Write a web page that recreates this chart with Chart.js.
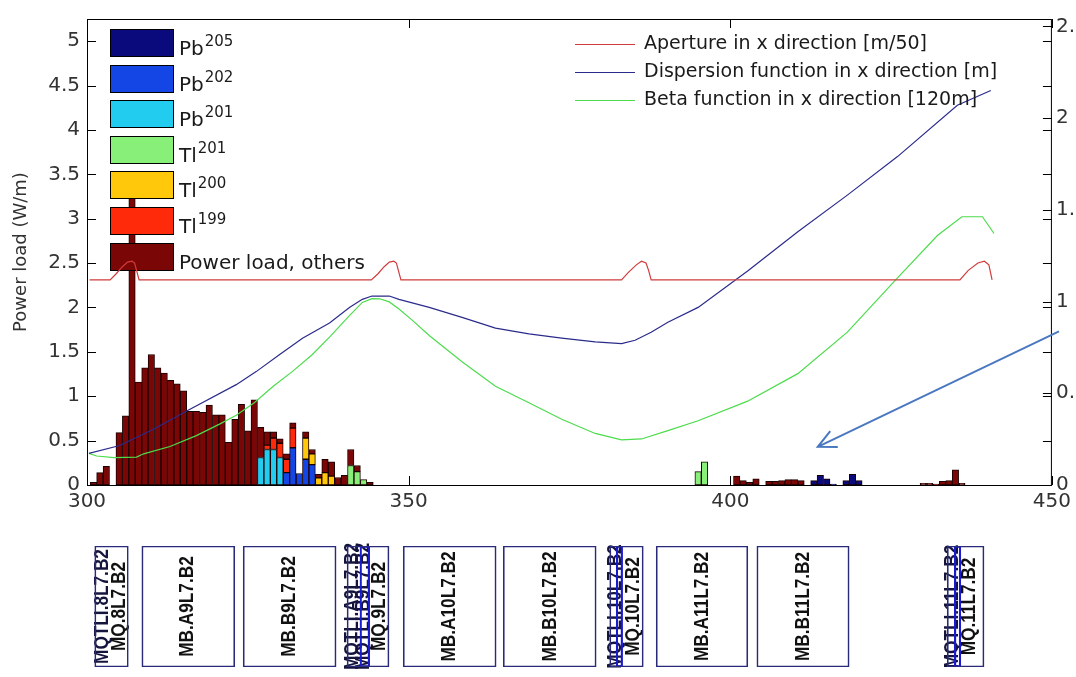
<!DOCTYPE html>
<html>
<head>
<meta charset="utf-8">
<script src="https://cdn.jsdelivr.net/npm/chart.js@4.4.1/dist/chart.umd.min.js"></script>
<style>
  html, body { margin: 0; padding: 0; background: #fff; }
  #main { position: absolute; left: 0; top: 0; }
  #magnets { position: absolute; left: 0; top: 520px; }
</style>
</head>
<body>
<canvas id="main" width="1076" height="520"></canvas>
<canvas id="magnets" width="1076" height="157"></canvas>
<script>
// Power load per 1 m bin (W/m), one pair of arrays per isotope
const othersBins = [301, 302, 303, 305, 306, 307, 308, 309, 310, 311,
  312, 313, 314, 315, 316, 317, 318, 319, 320, 321, 322, 323, 324, 325, 326, 327, 328, 329, 330,
  331, 332, 334, 335, 336, 337, 338, 339, 340, 341, 342, 344,
  401, 402, 403, 404, 406, 407, 408, 409, 410, 411,
  430, 431, 432, 433, 434, 435, 436];
const othersLoad = [0.03, 0.14, 0.21, 0.59, 0.78, 3.5, 1.16, 1.32, 1.47, 1.32,
  1.26, 1.18, 1.14, 1.06, 0.83, 0.83, 0.82, 0.9, 0.79, 0.79, 0.48, 0.74, 0.91, 0.61, 0.96, 0.34, 0.15, 0.07, 0.05,
  0.06, 0.06, 0.07, 0.05, 0.04, 0.15, 0.16, 0.085, 0.11, 0.18, 0.07, 0.03,
  0.1, 0.05, 0.03, 0.07, 0.04, 0.04, 0.05, 0.06, 0.06, 0.05,
  0.02, 0.02, 0.01, 0.04, 0.05, 0.17, 0.02];
const tl199Bins = [328, 329, 330, 331, 332];
const tl199Load = [0.05, 0.13, 0.16, 0.15, 0.22];
const tl200Bins = [334, 335, 336, 337, 338];
const tl200Load = [0.24, 0.12, 0.08, 0.14, 0.1];
const tl201Bins = [341, 342, 343, 395, 396];
const tl201Load = [0.22, 0.15, 0.06, 0.15, 0.26];
const pb201Bins = [327, 328, 329, 330];
const pb201Load = [0.31, 0.4, 0.4, 0.31];
const pb202Bins = [331, 332, 333, 334, 335];
const pb202Load = [0.14, 0.42, 0.13, 0.29, 0.23];
const pb205Bins = [413, 414, 415, 416, 418, 419, 420];
const pb205Load = [0.05, 0.11, 0.07, 0.01, 0.05, 0.12, 0.05];

// Optics, right axis
const apertureS = [300.4, 303.6, 304.5, 305.5, 306.3, 307.0, 307.4, 307.7, 308.1,
  344.2, 345.2, 346.2, 347.0, 347.7, 348.1, 348.4, 348.8,
  383.1, 384.2, 385.4, 386.2, 386.9, 387.3, 387.7,
  435.7, 437.0, 438.5, 439.5, 440.2, 440.7];
const apertureVal = [1.118, 1.118, 1.15, 1.19, 1.215, 1.22, 1.21, 1.17, 1.118,
  1.118, 1.15, 1.19, 1.215, 1.22, 1.21, 1.17, 1.118,
  1.118, 1.16, 1.2, 1.22, 1.21, 1.17, 1.118,
  1.118, 1.17, 1.21, 1.22, 1.2, 1.118];
const dispersionS = [300.3, 305.1, 310.4, 315.5, 323.2, 326.3, 329.9, 333.5, 337.7, 340.8, 342.8, 344.3,
  347.0, 348.5, 353.2, 358.3, 363.5, 368.7, 373.8, 379.0, 383.1, 385.2, 387.7, 390.3, 395.0,
  402.7, 410.5, 418.2, 426.0, 435.3, 440.5];
const dispersionVal = [0.172, 0.215, 0.305, 0.403, 0.547, 0.618, 0.71, 0.8, 0.883, 0.968, 1.012, 1.03,
  1.03, 1.012, 0.968, 0.914, 0.855, 0.824, 0.801, 0.78, 0.771, 0.789, 0.833, 0.887, 0.968,
  1.167, 1.38, 1.58, 1.79, 2.07, 2.15];
const betaS = [300.3, 301.5, 304.2, 307.7, 308.8, 312.9, 317.0, 320.6, 323.2, 326.0, 329.0, 331.9, 335.0,
  337.7, 340.8, 342.8, 344.3, 345.5, 347.0, 348.5, 350.5, 353.2, 358.3, 363.5, 368.7, 373.8, 379.0,
  383.1, 386.2, 390.3, 395.0, 402.7, 410.5, 418.2, 426.0, 432.2, 436.0, 439.2, 441.0];
const betaVal = [0.172, 0.158, 0.149, 0.152, 0.17, 0.21, 0.269, 0.332, 0.38, 0.448, 0.54, 0.618, 0.71,
  0.806, 0.923, 0.995, 1.016, 1.015, 0.998, 0.959, 0.9, 0.815, 0.672, 0.538, 0.448, 0.358, 0.281,
  0.246, 0.251, 0.296, 0.35, 0.457, 0.607, 0.833, 1.129, 1.36, 1.462, 1.462, 1.371];

// Tick values
const xTicks = [300, 350, 400, 450];
const leftTicks = [0, 0.5, 1, 1.5, 2, 2.5, 3, 3.5, 4, 4.5, 5];
const rightTicks = [0, 0.5, 1, 1.5, 2, 2.5];

// Magnet layout (s in m)
const magnetNames = ["MQ.8L7.B2", "MB.A9L7.B2", "MB.B9L7.B2", "MQ.9L7.B2", "MB.A10L7.B2",
  "MB.B10L7.B2", "MQ.10L7.B2", "MB.A11L7.B2", "MB.B11L7.B2", "MQ.11L7.B2"];
const magnetStart = [301.2, 308.5, 324.2, 340.3, 349.0, 364.5, 381.0, 388.2, 403.8, 433.3];
const magnetEnd = [306.4, 322.9, 338.6, 346.8, 363.4, 378.9, 386.2, 402.4, 418.1, 439.0];
const magnetLabelAt = [305.0, 315.6, 331.4, 345.3, 356.2, 371.7, 384.6, 395.3, 411.0, 436.7];
const correctorNames = ["MQTLI.8L7.B2", "MQTLI.A9L7.B2", "MQTLI.B9L7.B2", "MQTLI.10L7.B2", "MQTLI.11L7.B2"];
const correctorAt = [302.3, 341.1, 342.8, 381.8, 434.0];
const correctorStart = [342.3, 382.0, 434.4];
const correctorEnd = [343.8, 383.0, 435.4];

const seriesBase = ["Pb", "Pb", "Pb", "Tl", "Tl", "Tl", "Power load, others"];
const seriesMass = ["205", "202", "201", "201", "200", "199", ""];
const seriesColors = ["#0a0a7c", "#1446e6", "#22ccee", "#88f078", "#ffc80a", "#ff2a0a", "#7a0606"];
const seriesBins = [pb205Bins, pb202Bins, pb201Bins, tl201Bins, tl200Bins, tl199Bins, othersBins];
const seriesLoad = [pb205Load, pb202Load, pb201Load, tl201Load, tl200Load, tl199Load, othersLoad];

const opticsLabels = ["Aperture in x direction [m/50]", "Dispersion function in x direction [m]", "Beta function in x direction [120m]"];
const opticsColors = ["#d03c3c", "#2b2b8c", "#4cdc4c"];
const opticsS = [apertureS, dispersionS, betaS];
const opticsVal = [apertureVal, dispersionVal, betaVal];

const arrowFrom = [451.1, 1.73];
const arrowTo = [413.6, 0.43];

Chart.defaults.font.family = '"DejaVu Sans", sans-serif';
Chart.defaults.color = "#2a2a2a";

const FONT = '"DejaVu Sans", sans-serif';

const useTicks = values => scale => { scale.ticks = values.map(v => ({ value: v })); };
const plainNumber = v => String(+Number(v).toFixed(2));

const datasets = [];
seriesBase.forEach((base, i) => {
  datasets.push({
    type: "bar",
    label: base + seriesMass[i],
    data: seriesBins[i].map((b, j) => ({ x: b, y: seriesLoad[i][j] })),
    backgroundColor: seriesColors[i],
    borderColor: "#1a0000",
    borderWidth: 1,
    borderSkipped: false,
    barPercentage: 1,
    categoryPercentage: 1,
    stack: "load",
    yAxisID: "y",
    order: 1
  });
});
opticsLabels.forEach((label, i) => {
  datasets.push({
    type: "line",
    label: label,
    data: opticsS[i].map((s, j) => ({ x: s, y: opticsVal[i][j] })),
    borderColor: opticsColors[i],
    borderWidth: 1.2,
    pointRadius: 0,
    tension: 0,
    yAxisID: "y2",
    order: 0
  });
});

// Bar legend drawn after the bars, before the optics lines
const isotopeLegend = {
  id: "isotopeLegend",
  afterDatasetDraw(chart, args) {
    if (args.index !== 0) return;
    const ctx = chart.ctx;
    ctx.save();
    seriesBase.forEach((base, i) => {
      const top = Math.round(29 + i * 35.6);
      ctx.fillStyle = seriesColors[i];
      ctx.fillRect(110, top, 63, 27);
      ctx.strokeStyle = "#000";
      ctx.lineWidth = 1;
      ctx.strokeRect(110.5, top + 0.5, 63, 27);
      ctx.fillStyle = "#1a1a1a";
      ctx.font = "20px " + FONT;
      ctx.textBaseline = "alphabetic";
      ctx.fillText(base, 179, top + 26);
      if (seriesMass[i]) {
        const w = ctx.measureText(base).width;
        ctx.font = "15px " + FONT;
        ctx.fillText(seriesMass[i], 180 + w, top + 17);
      }
    });
    ctx.restore();
  }
};

const frame = {
  id: "frame",
  afterDraw(chart) {
    const { ctx, chartArea: a, scales } = chart;
    ctx.save();
    ctx.strokeStyle = "#000";
    ctx.lineWidth = 1;
    ctx.strokeRect(a.left + 0.5, a.top + 0.5, a.right - a.left - 1, a.bottom - a.top);
    ctx.beginPath();
    const len = 9;
    scales.x.ticks.forEach(t => {
      const px = Math.round(scales.x.getPixelForValue(t.value)) + 0.5;
      ctx.moveTo(px, a.bottom); ctx.lineTo(px, a.bottom - len);
      ctx.moveTo(px, a.top); ctx.lineTo(px, a.top + len);
    });
    scales.y.ticks.forEach(t => {
      const py = Math.round(scales.y.getPixelForValue(t.value)) + 0.5;
      ctx.moveTo(a.left, py); ctx.lineTo(a.left + len, py);
      ctx.moveTo(a.right, py); ctx.lineTo(a.right - len, py);
    });
    scales.y2.ticks.forEach(t => {
      const py = Math.round(scales.y2.getPixelForValue(t.value)) + 0.5;
      ctx.moveTo(a.right, py); ctx.lineTo(a.right - len, py);
    });
    ctx.stroke();

    // optics legend
    ctx.font = "19px " + FONT;
    ctx.textBaseline = "middle";
    opticsLabels.forEach((label, i) => {
      const y = 44 + i * 28;
      ctx.strokeStyle = opticsColors[i];
      ctx.lineWidth = 1.2;
      ctx.beginPath();
      ctx.moveTo(575, y + 0.5); ctx.lineTo(635, y + 0.5);
      ctx.stroke();
      ctx.fillStyle = "#1a1a1a";
      ctx.fillText(label, 644, y);
    });

    // annotation arrow, in data coordinates
    const x0 = scales.x.getPixelForValue(arrowFrom[0]), y0 = scales.y.getPixelForValue(arrowFrom[1]);
    const x1 = scales.x.getPixelForValue(arrowTo[0]), y1 = scales.y.getPixelForValue(arrowTo[1]);
    const ang = Math.atan2(y1 - y0, x1 - x0);
    ctx.strokeStyle = "#4a78c0";
    ctx.lineWidth = 2;
    ctx.beginPath();
    ctx.moveTo(x0, y0); ctx.lineTo(x1, y1);
    ctx.moveTo(x1 - 20 * Math.cos(ang - 0.45), y1 - 20 * Math.sin(ang - 0.45));
    ctx.lineTo(x1, y1);
    ctx.lineTo(x1 - 20 * Math.cos(ang + 0.45), y1 - 20 * Math.sin(ang + 0.45));
    ctx.stroke();
    ctx.restore();
  }
};

new Chart(document.getElementById("main"), {
  type: "bar",
  data: { datasets: datasets },
  options: {
    responsive: false,
    animation: false,
    layout: { padding: { top: 13, left: 0, right: 0, bottom: 0 } },
    plugins: { legend: { display: false }, tooltip: { enabled: false } },
    scales: {
      x: {
        type: "linear",
        min: 300,
        max: 450,
        offset: false,
        grid: { display: false, drawTicks: false },
        border: { display: false },
        ticks: { font: { size: 20 }, color: "#333", padding: 5, maxRotation: 0, autoSkip: false, callback: plainNumber },
        afterBuildTicks: useTicks(xTicks),
        afterFit: scale => { scale.height = 35; }
      },
      y: {
        position: "left",
        min: 0,
        max: 5.25,
        grid: { display: false, drawTicks: false },
        border: { display: false },
        ticks: { font: { size: 20 }, color: "#333", padding: 7, autoSkip: false, callback: plainNumber },
        afterBuildTicks: useTicks(leftTicks),
        title: { display: true, text: "Power load (W/m)", font: { size: 18 }, color: "#333", padding: { top: 11, bottom: 0 } },
        afterFit: scale => { scale.width = 87; }
      },
      y2: {
        position: "right",
        min: 0,
        max: 2.54,
        grid: { display: false, drawTicks: false },
        border: { display: false },
        ticks: { font: { size: 20 }, color: "#333", padding: 4, autoSkip: false, callback: plainNumber },
        afterBuildTicks: useTicks(rightTicks),
        afterFit: scale => { scale.width = 21; }
      }
    }
  },
  plugins: [isotopeLegend, frame]
});

// Magnet layout panel
const magnetText = {
  id: "magnetText",
  beforeDatasetsDraw(chart) {
    const { ctx, chartArea: a, scales: { x } } = chart;
    const yMid = (a.top + a.bottom) / 2;
    ctx.save();
    ctx.font = 'bold 21px "Liberation Sans", Arial, sans-serif';
    ctx.textAlign = "center";
    ctx.textBaseline = "middle";
    const put = (text, s, color) => {
      ctx.save();
      ctx.translate(x.getPixelForValue(s), yMid);
      ctx.rotate(-Math.PI / 2);
      ctx.scale(0.82, 1); // narrow lettering
      ctx.fillStyle = color;
      ctx.fillText(text, 0, 0);
      ctx.restore();
    };
    correctorNames.forEach((n, i) => put(n, correctorAt[i], "#14143c"));
    magnetNames.forEach((n, i) => put(n, magnetLabelAt[i], "#111"));
    ctx.restore();
  }
};

new Chart(document.getElementById("magnets"), {
  type: "bar",
  data: {
    labels: ["row"],
    datasets: [
      {
        data: magnetNames.map((n, i) => ({ x: [magnetStart[i], magnetEnd[i]], y: "row" })),
        backgroundColor: "rgba(0,0,0,0)",
        borderColor: "#2a2a7a",
        borderWidth: 1,
        borderSkipped: false,
        barPercentage: 1,
        categoryPercentage: 1,
        grouped: false
      },
      {
        data: correctorStart.map((s, i) => ({ x: [s, correctorEnd[i]], y: "row" })),
        backgroundColor: "rgba(0,0,0,0)",
        borderColor: "#1a1ad0",
        borderWidth: 1.5,
        borderSkipped: false,
        barPercentage: 1,
        categoryPercentage: 1,
        grouped: false
      }
    ]
  },
  options: {
    indexAxis: "y",
    responsive: false,
    animation: false,
    layout: { padding: { left: 87, right: 21, top: 26, bottom: 10 } },
    plugins: { legend: { display: false }, tooltip: { enabled: false } },
    scales: {
      x: { type: "linear", min: 300, max: 450, offset: false, display: false },
      y: { type: "category", display: false }
    }
  },
  plugins: [magnetText]
});
</script>
</body>
</html>
